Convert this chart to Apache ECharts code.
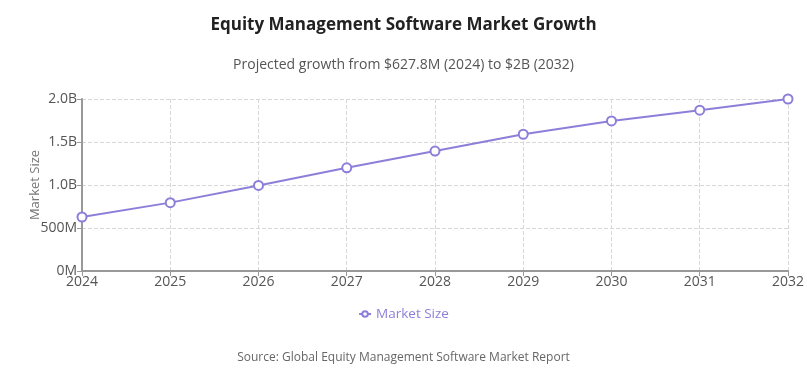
<!DOCTYPE html>
<html><head><meta charset="utf-8">
<script src="https://cdn.jsdelivr.net/npm/echarts@6/dist/echarts.min.js"></script>
<style>html,body{margin:0;padding:0;background:#fff}#c{width:807px;height:369px}</style>
</head><body><div id="c"></div>
<script>
const years = ['2024','2025','2026','2027','2028','2029','2030','2031','2032'];
const marketSize = [627.8e6, 795e6, 995e6, 1200e6, 1395e6, 1590e6, 1745e6, 1870e6, 2000e6];
const seriesName = 'Market Size';
const titleText = 'Equity Management Software Market Growth';
const subtitleText = 'Projected growth from $627.8M (2024) to $2B (2032)';
const sourceText = 'Source: Global Equity Management Software Market Report';

const font = '"Segoe UI","Open Sans","Noto Sans",sans-serif';
const chart = echarts.init(document.getElementById('c'));
chart.setOption({
  animation: false,
  textStyle: {fontFamily: font},
  title: [
    {text: titleText, left: 'center', top: 12,
     textStyle: {fontSize: 17, fontWeight: 'bold', color: '#222', fontFamily: font}},
    {text: subtitleText, left: 'center', top: 53,
     textStyle: {fontSize: 14, fontWeight: 'normal', color: '#555', fontFamily: font}},
    {text: sourceText, left: 'center', top: 347,
     textStyle: {fontSize: 12, fontWeight: 'normal', color: '#666', fontFamily: font}}
  ],
  legend: {
    data: [seriesName], top: 302, left: 'center', itemWidth: 12, itemHeight: 7, itemGap: 10,
    textStyle: {color: '#8c7fd9', fontSize: 13.5, fontFamily: font}
  },
  grid: {left: 82, right: 18, top: 99, bottom: 98},
  xAxis: {
    type: 'category', data: years, boundaryGap: false,
    axisLine: {lineStyle: {color: '#999', width: 2}},
    axisTick: {show: true, lineStyle: {color: '#999'}},
    axisLabel: {color: '#555', fontSize: 14, margin: 4, fontFamily: font},
    splitLine: {show: true, lineStyle: {type: 'dashed', color: '#d8d8d8'}}
  },
  yAxis: {
    type: 'value', min: 0, max: 2e9, interval: 5e8,
    name: seriesName, nameLocation: 'middle', nameGap: 40, nameMoveOverlap: false,
    nameTextStyle: {color: '#777', fontSize: 13, fontFamily: font},
    axisLine: {show: true, lineStyle: {color: '#999', width: 2}},
    axisTick: {show: true, lineStyle: {color: '#999'}},
    axisLabel: {color: '#555', fontSize: 14, margin: 5, fontFamily: font,
      formatter: v => v === 0 ? '0M' : (v < 1e9 ? (v/1e6) + 'M' : (v/1e9).toFixed(1) + 'B')},
    splitLine: {show: true, lineStyle: {type: 'dashed', color: '#d8d8d8'}}
  },
  series: [{
    name: seriesName, type: 'line', data: marketSize,
    symbol: 'circle', symbolSize: 9,
    lineStyle: {color: '#8c7fd9', width: 2},
    itemStyle: {color: '#fff', borderColor: '#8c7fd9', borderWidth: 2}
  }]
});
</script></body></html>
